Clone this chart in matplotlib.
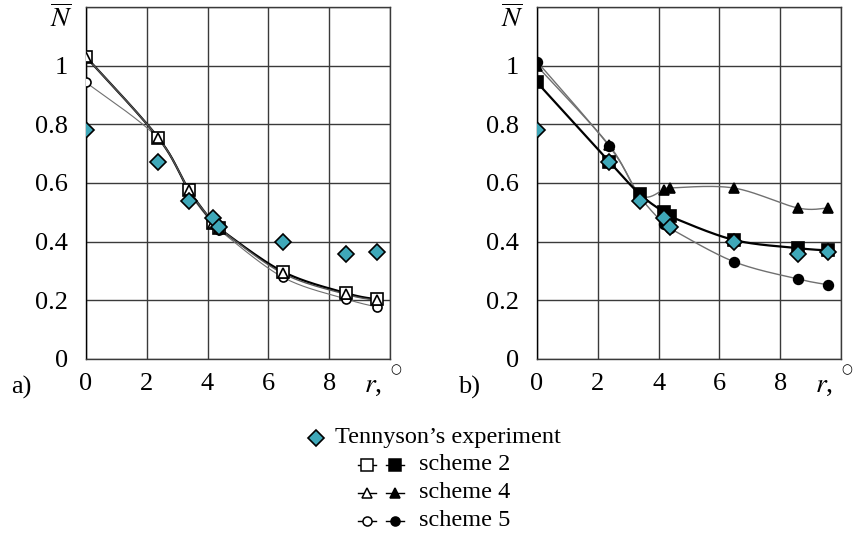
import numpy as np
import matplotlib
matplotlib.use("Agg")
import matplotlib.pyplot as plt
from matplotlib.lines import Line2D

plt.rcParams['font.family'] = ['Liberation Serif', 'DejaVu Serif']
plt.rcParams['mathtext.fontset'] = 'stix'

# r, degrees
r = [0, 2.38, 3.38, 4.18, 4.38, 6.47, 8.57, 9.58]

# Tennyson's experiment
exp_N = [0.78, 0.67, 0.54, 0.48, 0.45, 0.40, 0.357, 0.366]

# a) open markers
a_s2 = [1.03, 0.754, 0.577, 0.465, 0.445, 0.298, 0.224, 0.203]
a_s4 = [1.03, 0.754, 0.577, 0.465, 0.445, 0.292, 0.220, 0.200]
a_s5 = [0.943, 0.752, 0.570, 0.460, 0.440, 0.279, 0.204, 0.177]

# b) filled markers
b_s2 = [0.943, 0.672, 0.562, 0.500, 0.486, 0.406, 0.378, 0.370]
b_s4 = [0.999, 0.728, 0.560, 0.577, 0.583, 0.583, 0.515, 0.515]
b_s5 = [1.014, 0.725, 0.555, 0.460, 0.445, 0.332, 0.273, 0.253]

TEAL = '#3fa8b9'
GRID = '#3a3a3a'
FS = 19


def smooth(x, y, n=24):
    # excel-like smoothed line (bezier, tension 1/6)
    p = np.column_stack([x, y]).astype(float)
    pts = [p[0]]
    for i in range(len(p) - 1):
        p0 = p[i - 1] if i > 0 else p[i]
        p3 = p[i + 2] if i + 2 < len(p) else p[i + 1]
        c1 = p[i] + (p[i + 1] - p0) / 6
        c2 = p[i + 1] - (p3 - p[i]) / 6
        t = np.linspace(0, 1, n)[1:, None]
        seg = ((1 - t) ** 3) * p[i] + 3 * ((1 - t) ** 2) * t * c1 + 3 * (1 - t) * t ** 2 * c2 + t ** 3 * p[i + 1]
        pts.extend(seg)
    pts = np.array(pts)
    return pts[:, 0], pts[:, 1]


def series(ax, y, marker, ms, filled, color, lw, z):
    sx, sy = smooth(r, y)
    ax.plot(sx, sy, color=color, lw=lw, zorder=z)
    ax.plot(r, y, ls='none', marker=marker, ms=ms,
            mfc='black' if filled else 'white', mec='black', mew=1.2, zorder=z + 0.5)


def setup(ax, tag, xlab):
    ax.set_xlim(0, 10)
    ax.set_ylim(0, 1.2)
    ax.set_xticks([0, 2, 4, 6, 8, 10])
    ax.set_xticklabels(['0', '2', '4', '6', '8', ''])
    ax.set_yticks([0, 0.2, 0.4, 0.6, 0.8, 1.0, 1.2])
    ax.set_yticklabels(['0', '0.2', '0.4', '0.6', '0.8', '1', ''])
    ax.tick_params(length=0, labelsize=FS, colors='black')
    ax.tick_params(axis='y', pad=13)
    ax.tick_params(axis='x', pad=10)
    ax.grid(True, color=GRID, lw=1)
    for s in ax.spines.values():
        s.set_color(GRID)
        s.set_linewidth(1)
    ax.spines['left'].set_color('black')
    ax.set_axisbelow(True)
    ax.text(-0.082, 0.967, r'$\overline{N}$', transform=ax.transAxes, fontsize=20, ha='center', va='center')
    fig.text(xlab, 0.278, tag, fontsize=FS, ha='left', va='center')
    ax.text(0.945, -0.075, r'$r$,', transform=ax.transAxes, fontsize=20, ha='center', va='center')
    ax.text(1.02, -0.03, '\u25cb', transform=ax.transAxes, fontsize=9, ha='center', va='center',
            family='DejaVu Sans')


fig = plt.figure(figsize=(8.57, 5.37), dpi=100)
ax1 = fig.add_axes([0.1003, 0.3315, 0.3547, 0.6555])
ax2 = fig.add_axes([0.6266, 0.3315, 0.3547, 0.6555])

series(ax1, a_s5, 'o', 6.5, False, '#707070', 0.8, 3)
series(ax1, a_s4, '^', 6.5, False, '#555555', 1.0, 4)
series(ax1, a_s2, 's', 8, False, 'black', 1.6, 3.7)
ax1.plot(r, exp_N, ls='none', marker='D', ms=8.5, mfc=TEAL, mec='black', mew=1.2, zorder=6)

series(ax2, b_s5, 'o', 7, True, '#707070', 1.0, 3)
series(ax2, b_s4, '^', 7.5, True, '#707070', 1.0, 3.2)
series(ax2, b_s2, 's', 8, True, 'black', 1.6, 4)
ax2.plot(r, exp_N, ls='none', marker='D', ms=8.5, mfc=TEAL, mec='black', mew=1.2, zorder=6)

setup(ax1, 'a)', 0.013)
setup(ax2, 'b)', 0.535)

# legend
tf = fig.transFigure
W, H = 857.0, 537.0


def fx(px):
    return px / W


def fy(py):
    return 1 - py / H


fig.add_artist(Line2D([fx(316)], [fy(438)], transform=tf, ls='none', marker='D', ms=8.5,
                      mfc=TEAL, mec='black', mew=1.2))
fig.text(fx(335), fy(438), 'Tennyson\u2019s experiment', fontsize=17.5, ha='left', va='center')

legend_rows = [('s', 8, 'scheme 2'), ('^', 6.5, 'scheme 4'), ('o', 6.5, 'scheme 5')]
for k, (m, ms, lab) in enumerate(legend_rows):
    y = fy(465 + 28 * k)
    for cx, fill in ((367, 'white'), (395, 'black')):
        fig.add_artist(Line2D([fx(cx - 9), fx(cx + 9)], [y, y], transform=tf, color='black', lw=1))
        fig.add_artist(Line2D([fx(cx)], [y], transform=tf, ls='none', marker=m, ms=ms,
                              mfc=fill, mec='black', mew=1.1))
    fig.text(fx(419), y, lab, fontsize=17.5, ha='left', va='center')

fig.savefig('out.png', dpi=100)
